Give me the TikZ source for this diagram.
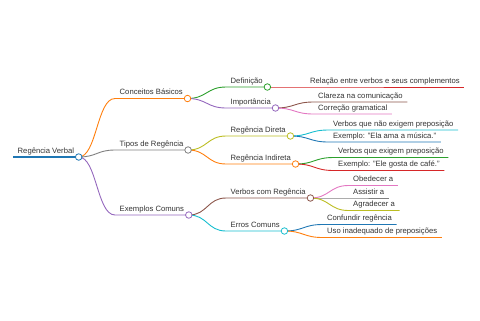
\documentclass[tikz,border=0pt]{standalone}
\usepackage{fontspec}
\setmainfont{Liberation Sans}
\usetikzlibrary{calc}
\definecolor{cBlue}{HTML}{1F77B4}
\definecolor{cOrange}{HTML}{FF7F0E}
\definecolor{cGreen}{HTML}{2CA02C}
\definecolor{cRed}{HTML}{D62728}
\definecolor{cPurple}{HTML}{9467BD}
\definecolor{cBrown}{HTML}{8C564B}
\definecolor{cPink}{HTML}{E377C2}
\definecolor{cGray}{HTML}{7F7F7F}
\definecolor{cOlive}{HTML}{BCBD22}
\definecolor{cCyan}{HTML}{17BECF}
\definecolor{txt}{HTML}{333333}

\begin{document}
\begin{tikzpicture}[
    x=1bp, y=-1bp,
    lbl/.style={anchor=south west, inner xsep=4.5bp, inner ysep=3.5bp, text depth=0pt, text=txt, font=\fontsize{7.7}{9}\selectfont},
    dot/.style={circle, draw=#1, fill=white, line width=0.8pt, minimum size=6.5bp, inner sep=0pt},
    edge/.style={draw=#1, line width=0.9pt}
]
\useasboundingbox (0,0) rectangle (480,320);

% Wurzel
\node[lbl] (root) at (13,157) {Regência Verbal};
\draw[cBlue, line width=2pt] (root.south west) -- (root.south east);

% Ebene 1
\foreach \nm/\y/\col/\txt in {kb/98.5/cOrange/{Conceitos Básicos}, tr/150/cGray/{Tipos de Regência}, ec/215/cPurple/{Exemplos Comuns}} {
    \node[lbl] (\nm) at (115,\y) {\txt};
    \draw[edge=\col] let \p1=(root.south east), \p2=(\nm.south west) in
        (\p1) .. controls ({(\x1+\x2)/2},\y1) and ({(\x1+\x2)/2},\y2) .. (\p2) -- (\nm.south east);
}

% Ebene 2
\foreach \nm/\up/\y/\col/\txt in {def/kb/87/cGreen/{Definição}, imp/kb/108/cPurple/{Importância},
    rd/tr/136/cOlive/{Regência Direta}, ri/tr/164/cOrange/{Regência Indireta},
    vr/ec/198/cBrown/{Verbos com Regência}, er/ec/231/cCyan/{Erros Comuns}} {
    \node[lbl] (\nm) at (226,\y) {\txt};
    \draw[edge=\col] let \p1=(\up.south east), \p2=(\nm.south west) in
        (\p1) .. controls ({(\x1+\x2)/2},\y1) and ({(\x1+\x2)/2},\y2) .. (\p2) -- (\nm.south east);
}

% Ebene 3 (Blaetter)
\foreach \nm/\up/\dy/\col/\txt in {rel/def/0/cRed/{Relação entre verbos e seus complementos},
    cla/imp/-6/cBrown/{Clareza na comunicação}, cor/imp/6/cPink/{Correção gramatical},
    vn/rd/-6/cCyan/{Verbos que não exigem preposição}, exa/rd/6/cBlue/{Exemplo: "Ela ama a música."},
    ve/ri/-6.5/cGreen/{Verbos que exigem preposição}, exb/ri/6.5/cRed/{Exemplo: "Ele gosta de café."},
    ob/vr/-12.5/cPink/{Obedecer a}, as/vr/0/cGray/{Assistir a}, ag/vr/12.5/cOlive/{Agradecer a},
    cf/er/-6.5/cBlue/{Confundir regência}, uso/er/6.5/cOrange/{Uso inadequado de preposições}} {
    \node[lbl] (\nm) at ($(\up.south east)+(38,\dy)$) {\txt};
    \draw[edge=\col] let \p1=(\up.south east), \p2=(\nm.south west) in
        (\p1) .. controls ({(\x1+\x2)/2},\y1) and ({(\x1+\x2)/2},\y2) .. (\p2) -- (\nm.south east);
}

% Knotenpunkte
\foreach \nm/\col in {root/cBlue, kb/cOrange, tr/cGray, ec/cPurple, def/cGreen, imp/cPurple,
    rd/cOlive, ri/cOrange, vr/cBrown, er/cCyan} {
    \node[dot=\col] (\nm-dot) at (\nm.south east) {};
}

\end{tikzpicture}
\end{document}
